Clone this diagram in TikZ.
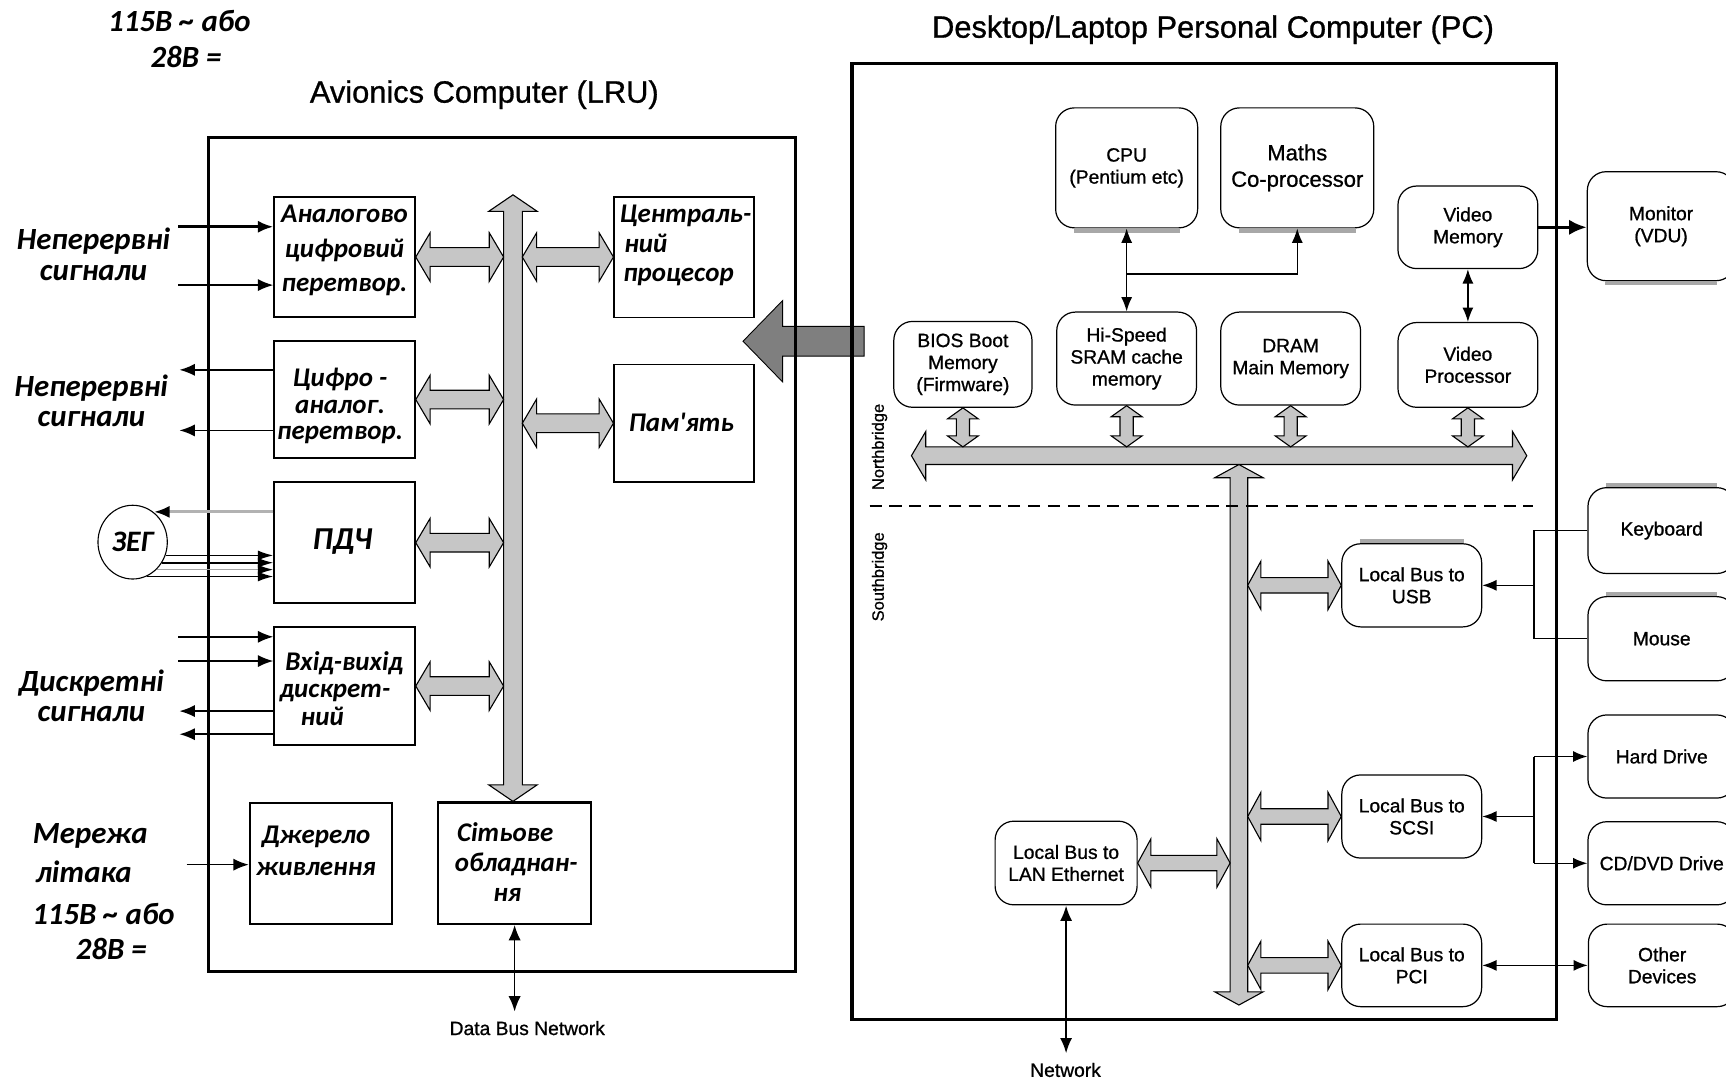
\documentclass[tikz,border=0pt]{standalone}
\usepackage{fontspec}
\setmainfont{Liberation Sans}
\newfontfamily\ukrfont{Carlito}
\newfontfamily\heavysans{Liberation Sans}[FakeBold=0.9]
\usetikzlibrary{arrows.meta,calc,shapes.geometric}

\definecolor{busgray}{HTML}{C6C6C6}
\definecolor{bigarrow}{HTML}{7F7F7F}
\definecolor{shadegray}{HTML}{A8A8A8}

\newcommand\ukr{\ukrfont\bfseries\itshape}

% fat double-headed bus arrow: #1,#2 end points, #3 shaft half width,
% #4 head half width, #5 head length
\newcommand\busarrow[5]{%
  \filldraw[bus] (#1)
   -- ($(#1)!#5!(#2)!#4!90:(#2)$)
   -- ($(#1)!#5!(#2)!#3!90:(#2)$)
   -- ($(#2)!#5!(#1)!#3!-90:(#1)$)
   -- ($(#2)!#5!(#1)!#4!-90:(#1)$)
   -- (#2)
   -- ($(#2)!#5!(#1)!#4!90:(#1)$)
   -- ($(#2)!#5!(#1)!#3!90:(#1)$)
   -- ($(#1)!#5!(#2)!#3!-90:(#2)$)
   -- ($(#1)!#5!(#2)!#4!-90:(#2)$)
   -- cycle;}

% fat single-headed arrow from tail #1 to tip #2
\newcommand\fatarrow[6]{%
  \filldraw[#6] ($(#1)!#3!90:(#2)$)
   -- ($(#2)!#5!(#1)!#3!-90:(#1)$)
   -- ($(#2)!#5!(#1)!#4!-90:(#1)$)
   -- (#2)
   -- ($(#2)!#5!(#1)!#4!90:(#1)$)
   -- ($(#2)!#5!(#1)!#3!90:(#1)$)
   -- ($(#1)!#3!-90:(#2)$)
   -- cycle;}

\begin{document}
\begin{tikzpicture}[x=1pt,y=-1pt,
  frame/.style={draw, line width=2.6pt, inner sep=0pt},
  avbox/.style={draw, line width=1.4pt, inner sep=0pt, minimum width=128pt},
  avtext/.style={inner sep=0pt, align=center, font=\ukr\fontsize{24.5}{#1}\selectfont},
  avtext/.default=31,
  side/.style={inner sep=0pt, align=center, font=\ukr\fontsize{28}{#1}\selectfont},
  side/.default=26,
  title/.style={inner sep=0pt, font=\heavysans\fontsize{28}{30}\selectfont},
  pcbox/.style={draw, line width=1.1pt, rounded corners=17pt, inner sep=0pt,
    align=center, fill=white, font=\heavysans\fontsize{17.5}{20}\selectfont},
  small/.style={inner sep=0pt, font=\heavysans\fontsize{17.5}{20}\selectfont},
  bus/.style={fill=busgray, draw=black, line width=1pt},
  sig/.style={line width=1.5pt, -{Latex[length=14pt,width=11pt]}},
  dsig/.style={line width=1.5pt, {Latex[length=14pt,width=11pt]}-{Latex[length=14pt,width=11pt]}},
  pcsig/.style={line width=1.3pt, -{Latex[length=13pt,width=10pt]}},
  pcdsig/.style={line width=1.3pt, {Latex[length=13pt,width=10pt]}-{Latex[length=13pt,width=10pt]}},
  pcline/.style={line width=1.3pt},
  shade/.style={line width=3.5pt, draw=shadegray},
]
\fill[white] (0,0) rectangle (1568,985);
\useasboundingbox (0,0) rectangle (1568,985);

% ---------------- supply note, top left ----------------
\node[side] (sup1) at (163,19.5) {115В \textasciitilde{} або};
\node[side] (sup2) at (169,52) {28В =};

% ---------------- avionics computer ----------------
\node[title] (avtitle) at (440,86) {Avionics Computer (LRU)};

% transfer arrow from the PC
\coordinate (bigtail) at (785,310);
\coordinate (bigtip) at (675,310);
\fatarrow{bigtail}{bigtip}{13.5pt}{37pt}{36pt}{fill=bigarrow, draw=black, line width=0.8pt}

\node[frame, minimum width=533pt, minimum height=757.5pt] (av) at (456,503.75) {};

\node[avbox, minimum height=109pt] (adc) at (313,233.5) {};
\node[avtext] (adct) at (313,227.5) {Аналогово\\цифровий\\перетвор.};
\node[avbox, minimum height=106pt] (dac) at (313,363) {};
\node[avtext=24] (dact) at (309,369) {Цифро -\\аналог.\\перетвор.};
\node[avbox, minimum height=110pt] (pdch) at (313,493) {};
\node[inner sep=0pt, font=\ukr\fontsize{29}{31}\selectfont] (pdcht) at (311,492) {ПДЧ};
\node[avbox, minimum height=107.5pt] (dio) at (313,623.25) {};
\node[avtext=25, align=left, anchor=west] (diot) at (254,625.5)
  {\hspace*{5pt}Вхід-вихід\\дискрет-\\\hspace*{19pt}ний};
\node[avbox, minimum width=129pt, minimum height=110pt, line width=2pt] (psu) at (291.5,784.5) {};
\node[avtext=28.5] (psut) at (287,773) {Джерело\\живлення};
\node[avbox, minimum width=139pt, minimum height=110pt] (nic) at (467.5,784.5) {};
\draw[line width=3pt] (nic.north west) -- (nic.north east);
\node[avtext=27, align=left, anchor=west] (nict) at (413,783)
  {\hspace*{2pt}Сітьове\\обладнан-\\\hspace*{35pt}ня};
\node[avbox, minimum width=127pt, minimum height=109.5pt] (cpu) at (621.5,233.5) {};
\node[avtext=27, align=left, anchor=west] (cput) at (563,223)
  {Централь-\\\hspace*{4pt}ний\\\hspace*{3pt}процесор};
\node[avbox, minimum width=127pt, minimum height=107pt] (mem) at (621.5,384.5) {};
\node[avtext] (memt) at (619,384) {Пам'ять};

% internal bus
\coordinate (lbt) at (466,177);
\coordinate (lbb) at (466,728);
\busarrow{lbt}{lbb}{8.5pt}{22pt}{15pt}
\coordinate (ba1) at ($(lbt |- adc.east)+(-8.5,0)$);
\coordinate (ba2) at ($(lbt |- dac.east)+(-8.5,0)$);
\coordinate (ba3) at ($(lbt |- pdch.east)+(-8.5,0)$);
\coordinate (ba4) at ($(lbt |- dio.east)+(-8.5,0)$);
\coordinate (ba5) at ($(lbt |- cpu.west)+(8.5,0)$);
\coordinate (ba6) at ($(lbt |- mem.west)+(8.5,0)$);
\busarrow{adc.east}{ba1}{8.5pt}{22pt}{13pt}
\busarrow{dac.east}{ba2}{8.5pt}{22pt}{13pt}
\busarrow{pdch.east}{ba3}{8.5pt}{22pt}{13pt}
\busarrow{dio.east}{ba4}{8.5pt}{22pt}{13pt}
\busarrow{ba5}{cpu.west}{8.5pt}{22pt}{13pt}
\busarrow{ba6}{mem.west}{8.5pt}{22pt}{13pt}

% continuous inputs
\node[side=27.5] (cin) at (85,231) {Неперервні\\сигнали};
\coordinate (ia1) at (162,206);
\coordinate (ia2) at (162,259);
\draw[sig, line width=2.5pt] (ia1) -- (ia1 -| adc.west);
\draw[sig] (ia2) -- (ia2 -| adc.west);

% continuous outputs
\node[side=27.5] (cout) at (83,364) {Неперервні\\сигнали};
\coordinate (oa1) at (163,336);
\coordinate (oa2) at (163,391);
\draw[sig] (oa1 -| dac.west) -- (oa1);
\draw[sig] (oa2 -| dac.west) -- (oa2);

% reference generator
\node[ellipse, draw, line width=1pt, minimum width=63pt, minimum height=67pt,
  inner sep=0pt, font=\ukr\fontsize{27}{28}\selectfont] (zeg) at (120.5,492.5) {ЗЕГ};
\coordinate (zo) at (140,465);
\draw[line width=2.5pt, draw=gray!60, -{Latex[length=14pt,width=11pt,color=black]}] (zo -| pdch.west) -- (zo);
\draw[sig, -{Latex[length=14pt,width=9pt]}] (zeg.-22) -- (zeg.-22 -| pdch.west);
\draw[sig, -{Latex[length=14pt,width=9pt]}] (zeg.-35) -- (zeg.-35 -| pdch.west);
\draw[sig, draw=gray!70, -{Latex[length=14pt,width=9pt,color=black]}] (zeg.-49) -- (zeg.-49 -| pdch.west);
\draw[sig, -{Latex[length=14pt,width=9pt]}] (zeg.-68) -- (zeg.-68 -| pdch.west);

% discrete signals
\node[side=27.5] (dsc) at (83,632) {Дискретні\\сигнали};
\coordinate (di1) at (162,578.5);
\coordinate (di2) at (162,600.5);
\coordinate (do1) at (163,646);
\coordinate (do2) at (163,667);
\draw[sig] (di1) -- (di1 -| dio.west);
\draw[sig] (di2) -- (di2 -| dio.west);
\draw[sig] (do1 -| dio.west) -- (do1);
\draw[sig] (do2 -| dio.west) -- (do2);

% aircraft power
\node[side] (pw1) at (82,759.5) {Мережа};
\node[side] (pw2) at (76,792) {літака};
\node[side] (pw3) at (94,830) {115В \textasciitilde{} або};
\node[side] (pw4) at (101,862) {28В =};
\coordinate (pin) at (169.5,785.5);
\draw[sig] (pin) -- (pin -| psu.west);

% data bus network
\node[small] (dbnlbl) at (479,934) {Data Bus Network};
\coordinate (dbn) at (467.5,919);
\draw[dsig] (nic.south) -- (dbn);

% ---------------- personal computer ----------------
\node[title] (pctitle) at (1102,27) {Desktop/Laptop Personal Computer (PC)};
\node[frame, line width=3pt, minimum width=640pt, minimum height=868pt] (pc) at (1094,492) {};

\node[pcbox, minimum width=129pt, minimum height=109pt] (cpu2) at (1023.5,152.5) {CPU\\(Pentium etc)};
\node[pcbox, minimum width=139pt, minimum height=109pt, font=\heavysans\fontsize{20}{24}\selectfont] (maths) at (1178.5,152.5) {Maths\\Co-processor};
\node[pcbox, minimum width=127pt, minimum height=75pt] (vmem) at (1333.5,206.5) {Video\\Memory};
\node[pcbox, minimum width=134pt, minimum height=99pt] (monitor) at (1509,205.5) {Monitor\\(VDU)};
\node[pcbox, minimum width=125.5pt, minimum height=78pt] (bios) at (874.75,331) {BIOS Boot\\Memory\\(Firmware)};
\node[pcbox, minimum width=127pt, minimum height=84.5pt] (sram) at (1023.5,325.75) {Hi-Speed\\SRAM cache\\memory};
\node[pcbox, minimum width=127pt, minimum height=84.5pt] (dram) at (1172.5,325.75) {DRAM\\Main Memory};
\node[pcbox, minimum width=127pt, minimum height=77pt] (vproc) at (1333.5,331.5) {Video\\Processor};
\node[pcbox, minimum width=127pt, minimum height=75.5pt] (usb) at (1282.5,531.75) {Local Bus to\\USB};
\node[pcbox, minimum width=127pt, minimum height=75.5pt] (scsi) at (1282.5,741.75) {Local Bus to\\SCSI};
\node[pcbox, minimum width=127pt, minimum height=75pt] (pci) at (1282.5,877) {Local Bus to\\PCI};
\node[pcbox, minimum width=129pt, minimum height=76pt] (lan) at (968.5,784) {Local Bus to\\LAN Ethernet};
\node[pcbox, minimum width=134pt, minimum height=78pt] (kbd) at (1509.6,482) {Keyboard};
\node[pcbox, minimum width=134pt, minimum height=76.5pt] (mouse) at (1509.6,580.25) {Mouse};
\node[pcbox, minimum width=134pt, minimum height=75.5pt] (hdd) at (1509.6,687.25) {Hard Drive};
\node[pcbox, minimum width=134pt, minimum height=75.5pt] (cdvd) at (1509.6,784.25) {CD/DVD Drive};
\node[pcbox, minimum width=134pt, minimum height=75pt] (other) at (1510,877) {Other\\Devices};

% shaded edges of some blocks
\draw[shade] ($(cpu2.south west)+(17,2)$) -- ($(cpu2.south east)+(-17,2)$);
\draw[shade] ($(maths.south west)+(17,2)$) -- ($(maths.south east)+(-17,2)$);
\draw[shade] ($(monitor.south west)+(17,2)$) -- ($(monitor.south east)+(-17,2)$);
\draw[shade] ($(kbd.north west)+(17,-2)$) -- ($(kbd.north east)+(-17,-2)$);
\draw[shade] ($(mouse.north west)+(17,-2)$) -- ($(mouse.north east)+(-17,-2)$);
\draw[shade] ($(usb.north west)+(17,-2)$) -- ($(usb.north east)+(-17,-2)$);

% northbridge bus
\coordinate (nbl) at (828,414);
\coordinate (nbr) at (1387,414);
\busarrow{nbl}{nbr}{8pt}{22pt}{13pt}
\coordinate (n1) at ($(bios.south |- nbl)+(0,-8)$);
\coordinate (n2) at ($(sram.south |- nbl)+(0,-8)$);
\coordinate (n3) at ($(dram.south |- nbl)+(0,-8)$);
\coordinate (n4) at ($(vproc.south |- nbl)+(0,-8)$);
\busarrow{bios.south}{n1}{6pt}{14pt}{10pt}
\busarrow{sram.south}{n2}{6pt}{14pt}{10pt}
\busarrow{dram.south}{n3}{6pt}{14pt}{10pt}
\busarrow{vproc.south}{n4}{6pt}{14pt}{10pt}

% southbridge bus
\coordinate (sbt) at (1125.5,422);
\coordinate (sbb) at (1125.5,913);
\busarrow{sbt}{sbb}{8pt}{22pt}{12pt}
\coordinate (s1) at ($(sbt |- usb.west)+(8,0)$);
\coordinate (s2) at ($(sbt |- scsi.west)+(8,0)$);
\coordinate (s3) at ($(sbt |- pci.west)+(8,0)$);
\coordinate (s4) at ($(sbt |- lan.east)+(-8,0)$);
\busarrow{s1}{usb.west}{7pt}{22pt}{12pt}
\busarrow{s2}{scsi.west}{7pt}{22pt}{12pt}
\busarrow{s3}{pci.west}{7pt}{22pt}{12pt}
\busarrow{lan.east}{s4}{7pt}{22pt}{12pt}

% bridge divider
\coordinate (dl) at (790,460);
\coordinate (dr) at (1393,460);
\draw[line width=1.6pt, dash pattern=on 11pt off 7pt] (dl) -- (dr);
\node[inner sep=0pt, rotate=90, font=\heavysans\fontsize{15}{15}\selectfont] (nbt) at (799,406) {Northbridge};
\node[inner sep=0pt, rotate=90, font=\heavysans\fontsize{15}{15}\selectfont] (sbtx) at (799,524) {Southbridge};

% CPU, cache and maths co-processor
\coordinate (cj) at ($(cpu2.south)!0.55!(sram.north)$);
\draw[pcdsig] (cpu2.south) -- (sram.north);
\draw[pcsig] (cj) -| (maths.south);

% video
\draw[line width=3pt, -{Latex[length=16pt,width=14pt]}] (vmem.east) -- (vmem.east -| monitor.west);
\draw[pcdsig] (vmem.south) -- (vproc.north);

% USB devices
\coordinate (ub) at (1393.5,0);
\draw[pcline] (kbd.west) -- (kbd.west -| ub) -- (mouse.west -| ub) -- (mouse.west);
\draw[pcsig] (usb.east -| ub) -- (usb.east);

% SCSI devices
\draw[pcline] (hdd.west -| ub) -- (cdvd.west -| ub);
\draw[pcsig] (hdd.west -| ub) -- (hdd.west);
\draw[pcsig] (cdvd.west -| ub) -- (cdvd.west);
\draw[pcsig] (scsi.east -| ub) -- (scsi.east);

% PCI devices
\draw[pcdsig] (pci.east) -- (pci.east -| other.west);

% network
\node[small] (netlbl) at (968,972) {Network};
\coordinate (netend) at (968.5,957);
\draw[line width=2pt, {Latex[length=14pt,width=11pt]}-{Latex[length=14pt,width=11pt]}] (lan.south) -- (netend);
\end{tikzpicture}
\end{document}
